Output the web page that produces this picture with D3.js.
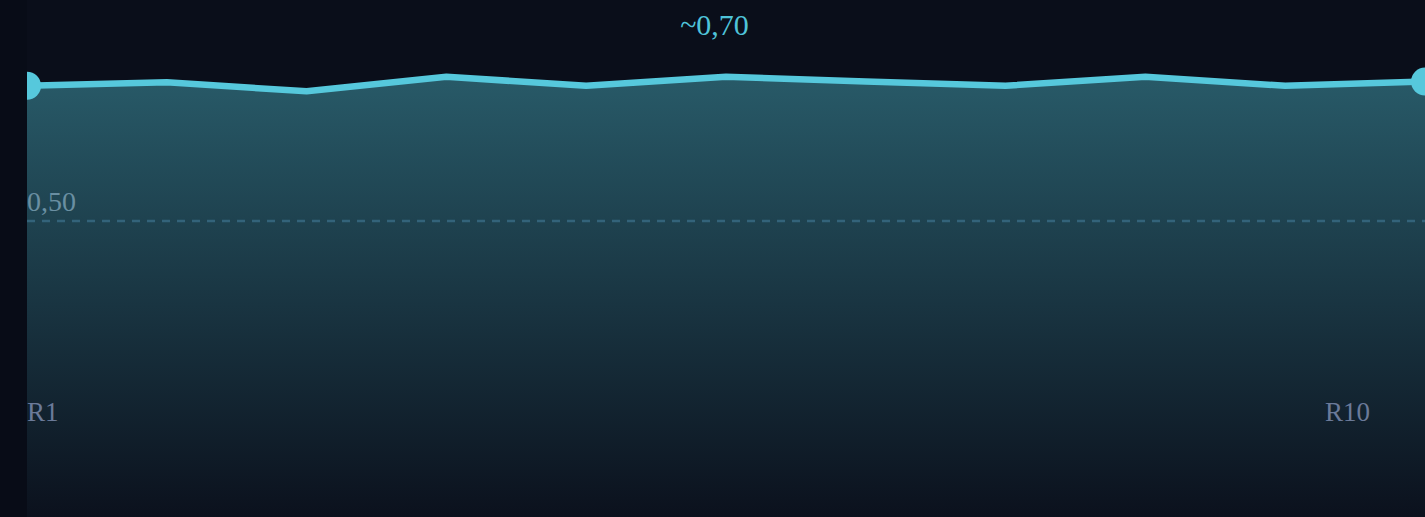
<!DOCTYPE html>
<html>
<head>
<meta charset="utf-8">
<script src="https://cdn.jsdelivr.net/npm/d3@7"></script>
<style>
  html, body { margin: 0; padding: 0; background: #0a0e1a; overflow: hidden; }
  svg { display: block; }
  text { font-family: "Liberation Serif", "Times New Roman", serif; }
</style>
</head>
<body>
<svg id="chart" width="1425" height="517"></svg>
<script>
const width = 1425;
const height = 517;
const plotLeft = 27;

// data
const rounds = ["R1", "R2", "R3", "R4", "R5", "R6", "R7", "R8", "R9", "R10", "R11"];
const values = [0.696, 0.701, 0.688, 0.709, 0.696, 0.709, 0.702, 0.696, 0.709, 0.696, 0.702];
const refValue = 0.5;
const refLabel = "0,50";
const title = "~0,70";
const axisLabels = ["R1", "R10"];

const svg = d3.select("#chart");

const xScale = d3.scalePoint()
  .domain(rounds)
  .range([plotLeft, width]);

const yScale = d3.scaleLinear()
  .domain([0.5, 0.7])
  .range([221, 83]);

// gradient for the area
const defs = svg.append("defs");
const grad = defs.append("linearGradient")
  .attr("id", "areaGrad")
  .attr("gradientUnits", "userSpaceOnUse")
  .attr("x1", 0).attr("x2", 0)
  .attr("y1", 77).attr("y2", height);
grad.append("stop").attr("offset", "0%").attr("stop-color", "#285a68");
grad.append("stop").attr("offset", "100%").attr("stop-color", "#0b111d");

defs.append("clipPath")
  .attr("id", "plotClip")
  .append("rect")
  .attr("x", plotLeft).attr("y", 0)
  .attr("width", width - plotLeft).attr("height", height);

// left strip
svg.append("rect")
  .attr("x", 0).attr("y", 0)
  .attr("width", plotLeft).attr("height", height)
  .attr("fill", "#080c17");

const plot = svg.append("g").attr("clip-path", "url(#plotClip)");

const area = d3.area()
  .x((d, i) => xScale(rounds[i]))
  .y0(height)
  .y1(d => yScale(d));

plot.append("path")
  .datum(values)
  .attr("d", area)
  .attr("fill", "url(#areaGrad)");

// reference line
plot.append("line")
  .attr("x1", plotLeft).attr("x2", width)
  .attr("y1", yScale(refValue)).attr("y2", yScale(refValue))
  .attr("stroke", "#33637a")
  .attr("stroke-width", 2.5)
  .attr("stroke-dasharray", "8 7");

svg.append("text")
  .attr("x", plotLeft)
  .attr("y", yScale(refValue) - 10)
  .attr("fill", "#6a8fa2")
  .attr("font-size", 28)
  .text(refLabel);

const line = d3.line()
  .x((d, i) => xScale(rounds[i]))
  .y(d => yScale(d));

plot.append("path")
  .datum(values)
  .attr("d", line)
  .attr("fill", "none")
  .attr("stroke", "#56c8dc")
  .attr("stroke-width", 6.5)
  .attr("stroke-linejoin", "round");

// end points
const ends = [0, values.length - 1];
plot.selectAll(".dot")
  .data(ends)
  .enter()
  .append("circle")
  .attr("class", "dot")
  .attr("cx", i => xScale(rounds[i]))
  .attr("cy", i => yScale(values[i]))
  .attr("r", 14)
  .attr("fill", "#56c8dc");

// x labels
svg.append("text")
  .attr("x", plotLeft)
  .attr("y", 421)
  .attr("fill", "#6b7a99")
  .attr("font-size", 27)
  .text(axisLabels[0]);

svg.append("text")
  .attr("x", width - 55)
  .attr("y", 421)
  .attr("text-anchor", "end")
  .attr("fill", "#6b7a99")
  .attr("font-size", 27)
  .text(axisLabels[1]);

// title
svg.append("text")
  .attr("x", width / 2 + 2)
  .attr("y", 35)
  .attr("text-anchor", "middle")
  .attr("fill", "#4fc3d9")
  .attr("font-size", 30)
  .text(title);
</script>
</body>
</html>
